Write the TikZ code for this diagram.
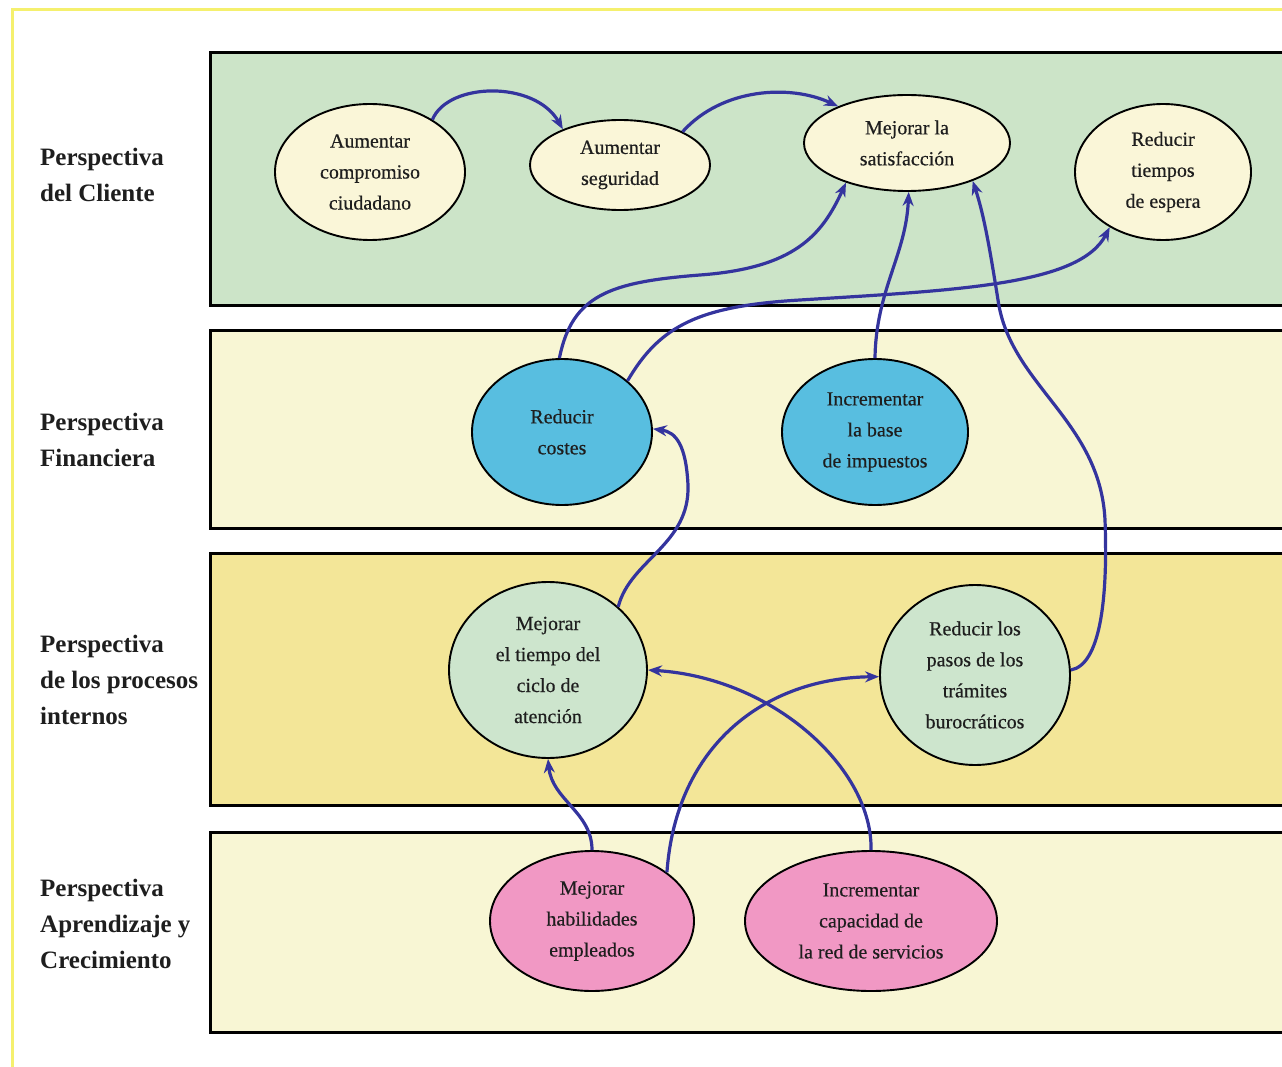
\documentclass[tikz,border=0pt]{standalone}
\usepackage{fontspec}
\setmainfont{Liberation Serif}
\newfontfamily\ovfont[FakeBold=0.4]{Liberation Serif}
\usetikzlibrary{shapes.geometric,arrows.meta}
\definecolor{bandgreen}{RGB}{204,228,200}
\definecolor{bandcream}{RGB}{248,246,212}
\definecolor{bandgold}{RGB}{243,230,152}
\definecolor{ovcream}{RGB}{250,246,216}
\definecolor{ovblue}{RGB}{88,190,224}
\definecolor{ovgreen}{RGB}{205,229,205}
\definecolor{ovpink}{RGB}{241,152,196}
\definecolor{linkblue}{RGB}{52,52,158}
\definecolor{frameyellow}{RGB}{245,240,110}
\definecolor{txt}{RGB}{30,30,30}
\begin{document}
\begin{tikzpicture}[x=1pt,y=1pt,
  band/.style={draw=black, line width=3pt},
  oval/.style={ellipse, draw=black, line width=1.9pt, inner sep=0pt, align=center,
    font=\ovfont\fontsize{20}{31}\selectfont, text=txt},
  persp/.style={anchor=west, align=left, inner sep=0pt,
    font=\fontsize{25}{36}\selectfont\bfseries, text=txt},
  link/.style={draw=linkblue, line width=3.2pt, -{Stealth[length=14pt,width=11pt]}}]
\useasboundingbox (0,0) rectangle (1282,-1067);
\clip (0,0) rectangle (1282,-1067);
\fill[white] (0,0) rectangle (1282,-1067);
% yellow frame
\draw[frameyellow, line width=3pt] (12,-1075) -- (12,-10) -- (1290,-10);
% bands
\filldraw[band, fill=bandgreen] (210,-53) rectangle (1300,-305);
\filldraw[band, fill=bandcream] (210,-330) rectangle (1300,-528);
\filldraw[band, fill=bandgold] (210,-553) rectangle (1300,-805);
\filldraw[band, fill=bandcream] (210,-832) rectangle (1300,-1032);
% perspective labels
\node[persp] (p1) at (40,-175) {Perspectiva\\del Cliente};
\node[persp] (p2) at (40,-440) {Perspectiva\\Financiera};
\node[persp] (p3) at (40,-680) {Perspectiva\\de los procesos\\internos};
\node[persp] (p4) at (40,-924) {Perspectiva\\Aprendizaje y\\Crecimiento};
% ovals
\node[oval, fill=ovcream, minimum width=190pt, minimum height=136pt] (c1) at (370,-172) {Aumentar\\compromiso\\ciudadano};
\node[oval, fill=ovcream, minimum width=180pt, minimum height=90pt] (c2) at (620,-165) {Aumentar\\seguridad};
\node[oval, fill=ovcream, minimum width=206pt, minimum height=96pt] (sat) at (907,-143) {Mejorar la\\satisfacción};
\node[oval, fill=ovcream, minimum width=176pt, minimum height=136pt] (rt) at (1163,-172) {Reducir\\tiempos\\de espera};
\node[oval, fill=ovblue, minimum width=180pt, minimum height=146pt] (rc) at (562,-432) {Reducir\\costes};
\node[oval, fill=ovblue, minimum width=186pt, minimum height=146pt] (ib) at (875,-432) {Incrementar\\la base\\de impuestos};
\node[oval, fill=ovgreen, minimum width=198pt, minimum height=176pt] (mt) at (548,-670) {Mejorar\\el tiempo del\\ciclo de\\atención};
\node[oval, fill=ovgreen, minimum width=190pt, minimum height=180pt] (rp) at (975,-675) {Reducir los\\pasos de los\\trámites\\burocráticos};
\node[oval, fill=ovpink, minimum width=204pt, minimum height=140pt] (mh) at (592,-921) {Mejorar\\habilidades\\empleados};
\node[oval, fill=ovpink, minimum width=252pt, minimum height=140pt] (ic) at (871,-921) {Incrementar\\capacidad de\\la red de servicios};
% connectors
\draw[link] (c1.40) .. controls (448,-82) and (535,-80) .. (c2.148);
\draw[link] (c2.28) .. controls (722,-88) and (790,-84) .. (sat.152);
\draw[link] (rc.92) .. controls (572,-295) and (610,-282) .. (700,-275)
  .. controls (795,-268) and (822,-235) .. (sat.213);
\draw[link] (rc.38) .. controls (660,-325) and (700,-306) .. (800,-300)
  .. controls (960,-290) and (1080,-285) .. (rt.226);
\draw[link] (ib.90) .. controls (876,-290) and (906,-255) .. (sat.272);
\draw[link] (rp.3) .. controls (1100,-665) and (1108,-600) .. (1105,-520)
  .. controls (1100,-420) and (1010,-385) .. (998,-300)
  .. controls (990,-250) and (984,-215) .. (sat.330);
\draw[link] (mt.42) .. controls (630,-560) and (690,-545) .. (688,-485)
  .. controls (686,-445) and (676,-432) .. (rc.2);
\draw[link] (mh.90) .. controls (592,-812) and (552,-800) .. (mt.270);
\draw[link] (mh.33) .. controls (676,-745) and (765,-678) .. (rp.181);
\draw[link] (ic.90) .. controls (873,-770) and (775,-678) .. (mt.0);
\end{tikzpicture}
\end{document}
